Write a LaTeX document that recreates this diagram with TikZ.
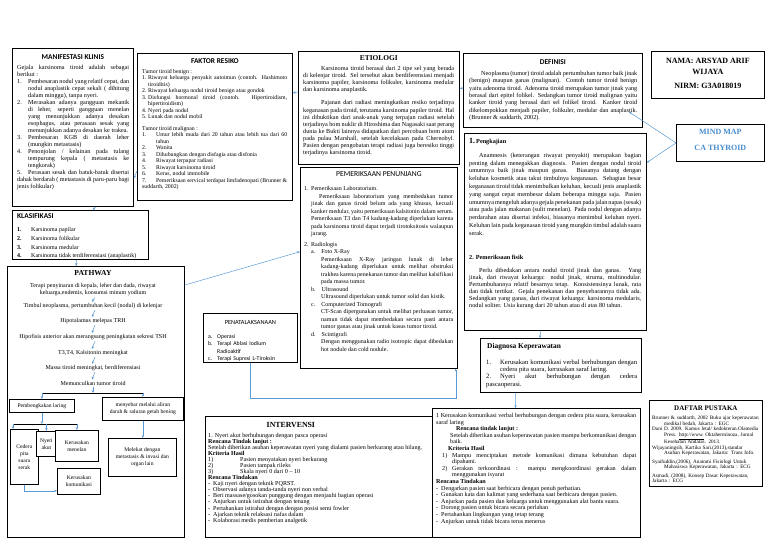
\documentclass[tikz,border=0pt]{standalone}
\usepackage{fontspec}
\setmainfont{Liberation Serif}
\newfontfamily\calfont{Carlito}
\usetikzlibrary{arrows.meta,calc}

\definecolor{garisbiru}{RGB}{91,155,213}
\definecolor{tulisanbiru}{RGB}{70,140,205}
% butir berhanging indent: [lebar]{label}{isi}
\newcommand\butir[3][7pt]{\par\hangindent=#1\hangafter=1\noindent\makebox[#1][l]{#2}#3}
% paragraf dengan margin kiri
\newcommand\blok[2]{\par{\leftskip=#1\relax\noindent#2\par}}

\begin{document}
\hyphenpenalty=10000
\exhyphenpenalty=10000
\emergencystretch=6pt
\begin{tikzpicture}[x=1pt, y=-1pt,
  kotak/.style={draw, fill=white, line width=0.75pt, inner sep=0pt, anchor=north west},
  isi/.style={anchor=north west, inner sep=0pt, align=justify, font=\fontsize{6.2}{7.1}\selectfont},
  jsans/.style={inner sep=0pt, font=\calfont\bfseries\fontsize{7.4}{8}\selectfont},
  jsansr/.style={inner sep=0pt, font=\calfont\fontsize{7.6}{8}\selectfont},
  jserif/.style={inner sep=0pt, font=\bfseries\fontsize{7.4}{8}\selectfont},
  alur/.style={inner sep=1.2pt, align=center, font=\fontsize{6}{7}\selectfont},
  kecil/.style={kotak, align=center, font=\fontsize{5.6}{7}\selectfont},
  panah/.style={-{Stealth[length=2.8pt,width=2.4pt]}, draw=garisbiru, line width=0.5pt},
  cabang/.style={line width=0.9pt}]
\useasboundingbox (0,0) rectangle (768,543);

% ---------- baris atas ----------
\node[kotak, minimum width=121pt, minimum height=158pt] (manif) at (12,48) {};
\node[jsans] at ([yshift=-9pt]manif.north) {MANIFESTASI KLINIS};
\node[isi, text width=112pt, font=\fontsize{6.2}{7}\selectfont] at ([xshift=5pt,yshift=-17pt]manif.north west)
{Gejala karsinoma tiroid adalah sebagai berikut :
\butir[11pt]{1.}{Pembesaran nodul yang relatif cepat, dan nodul anaplastik cepat sekali ( dihitung dalam minggu), tanpa nyeri.}
\butir[11pt]{2.}{Merasakan adanya gangguan mekanik di leher, seperti gangguan menelan yang menunjukkan adanya desakan esophagus, atau perasaan sesak yang menunjukkan adanya desakan ke trakea.}
\butir[11pt]{3.}{Pembesaran KGB di daerah leher (mungkin metastasis)}
\butir[11pt]{4.}{Penonjolan / kelainan pada tulang tempurung kepala ( metastasis ke tengkorak)}
\butir[11pt]{5.}{Perasaan sesak dan batuk-batuk disertai dahak berdarah ( metastasis di paru-paru bagi jenis folikular)}};

\node[kotak, minimum width=155pt, minimum height=147pt] (faktor) at (137,53) {};
\node[jsans] at ([yshift=-8pt]faktor.north) {FAKTOR RESIKO};
\node[isi, text width=145pt, font=\fontsize{5.8}{6.5}\selectfont] at ([xshift=5pt,yshift=-16pt]faktor.north west)
{Tumor tiroid benign :
\butir[6pt]{1.}{Riwayat keluarga penyakit autoimun (contoh. Hashimoto tiroiditis)}
\butir[6pt]{2.}{Riwayat keluarga nodul tiroid benign atau gondok}
\butir[6pt]{3.}{Disfungsi hormonal tiroid (contoh. Hipertiroidism, hipertiroidism)}
\butir[6pt]{4.}{Nyeri pada nodul}
\butir[6pt]{5.}{Lunak dan nodul mobil}
\par\vspace{5pt}
Tumor tiroid malignan :
\butir[14pt]{1.}{Umur lebih muda dari 20 tahun atau lebih tua dari 60 tahun}
\butir[14pt]{2.}{Wanita}
\butir[14pt]{3.}{Dihubungkan dengan disfagia atau disfonia}
\butir[14pt]{4.}{Riwayat terpapar radiasi}
\butir[14pt]{5.}{Riwayat karsinoma tiroid}
\butir[14pt]{6.}{Keras, nodul immobile}
\butir[14pt]{7.}{Pemeriksaan servical terdapat limfadenopati (Brunner \& suddarth, 2002)}};

\node[kotak, minimum width=161pt, minimum height=113pt] (etiologi) at (298,51) {};
\node[jserif] at ([yshift=-7pt]etiologi.north) {ETIOLOGI};
\node[isi, text width=151pt] at ([xshift=5pt,yshift=-15pt]etiologi.north west)
{\hspace*{18pt}Karsinoma tiroid berasal dari 2 tipe sel yang berada di kelenjar tiroid. Sel tersebut akan berdiferensiasi menjadi karsinoma papiler, karsinoma folikuler, karsinoma medular dan karsinoma anaplastik.\par\vspace{6pt}
\hspace*{18pt}Pajanan dari radiasi meningkatkan resiko terjadinya keganasan pada tiroid, terutama karsinoma papiler tiroid. Hal ini dibuktikan dari anak-anak yang terpajan radiasi setelah terjadinya bom nuklir di Hiroshima dan Nagasaki saat perang dunia ke Bukti lainnya didapatkan dari percobaan bom atom pada pulau Marshall, setelah kecelakaan pada Chernobyl. Pasien dengan pengobatan terapi radiasi juga beresiko tinggi terjadinya karsinoma tiroid.};

\node[kotak, minimum width=179pt, minimum height=74pt] (definisi) at (463,53) {};
\node[jsans] at ([yshift=-9pt]definisi.north) {DEFINISI};
\node[isi, text width=168pt, font=\fontsize{6.2}{7.3}\selectfont] at ([xshift=6pt,yshift=-18pt]definisi.north west)
{\hspace*{12pt}Neoplasma (tumor) tiroid adalah pertumbuhan tumor baik jinak (benign) maupun ganas (malignan). Contoh tumor tiroid benign yaitu adenoma tiroid. Adenoma tiroid merupakan tumor jinak yang berasal dari epitel folikel. Sedangkan tumor tiroid malignan yaitu kanker tiroid yang berasal dari sel folikel tiroid. Kanker tiroid dikelompokkan menjadi papiler, folikuler, medular dan anaplastik. (Brunner \& suddarth, 2002).};

\node[kotak, minimum width=113pt, minimum height=47pt] (nama) at (651,51) {};
\node[jserif, align=center, font=\bfseries\fontsize{8}{11}\selectfont] at ([yshift=-15pt]nama.north) {NAMA: ARSYAD ARIF\\WIJAYA};
\node[jserif, font=\bfseries\fontsize{8}{8}\selectfont] at ([yshift=-35pt]nama.north) {NIRM: G3A018019};

\node[kotak, minimum width=88pt, minimum height=37pt] (mind) at (676,124) {};
\node[jserif, text=tulisanbiru, font=\bfseries\fontsize{8}{8}\selectfont] at ([yshift=-8pt]mind.north) {MIND MAP};
\node[jserif, text=tulisanbiru, font=\bfseries\fontsize{8}{8}\selectfont] at ([yshift=-24pt]mind.north) {CA THYROID};

% ---------- pengkajian ----------
\node[kotak, minimum width=182pt, minimum height=197pt] (kaji) at (464,133) {};
\node[isi, text width=172pt, font=\fontsize{6.2}{7.8}\selectfont] at ([xshift=5pt,yshift=-5pt]kaji.north west)
{{\fontsize{8}{8}\selectfont\bfseries 1.}\,\textbf{Pengkajian}\par\vspace{6pt}
\hspace*{10pt}Anamnesis (keterangan riwayat penyakit) merupakan bagian penting dalam menegakkan diagnosis. Pasien dengan nodul tiroid umumnya baik jinak maupun ganas. Biasanya datang dengan keluhan kosmetik atau takut timbulnya keganasan. Sebagian besar keganasan tiroid tidak menimbulkan keluhan, kecuali jenis anaplastik yang sangat cepat membesar dalam beberapa minggu saja. Pasien umumnya mengeluh adanya gejala penekanan pada jalan napas (sesak) atau pada jalan makanan (sulit menelan). Pada nodul dengan adanya perdarahan atau disertai infeksi, biasanya menimbul keluhan nyeri. Keluhan lain pada keganasan tiroid yang mungkin timbul adalah suara serak.\par\vspace{16pt}
\textbf{2. Pemeriksaan fisik}\par\vspace{6pt}
{\fontsize{6.2}{7}\selectfont\hspace*{10pt}Perlu dibedakan antara nodul tiroid jinak dan ganas. Yang jinak, dari riwayat keluarga: nodul jinak, struma, multinodular. Pertumbuhannya relatif besarnya tetap. Konsistensinya lunak, rata dan tidak tertikat. Gejala penekanan dan penyebarannya tidak ada. Sedangkan yang ganas, dari riwayat keluarga: karsinoma medularis, nodul soliter. Usia kurang dari 20 tahun atau di atas 80 tahun.\par}};

% ---------- pemeriksaan penunjang ----------
\node[kotak, minimum width=157pt, minimum height=201pt] (penunjang) at (300,167) {};
\node[jsansr] at ([yshift=-7pt]penunjang.north) {PEMERIKSAAN PENUNJANG};
\node[isi, text width=149pt, font=\fontsize{6}{7.5}\selectfont] at ([xshift=4pt,yshift=-16pt]penunjang.north west)
{\butir{1.}{Pemeriksaan Laboratorium.}
\blok{7pt}{\hspace*{8pt}Pemeriksaan laboratorium yang membedakan tumor jinak dan ganas tiroid belum ada yang khusus, kecuali kanker medular, yaitu pemeriksaan kalsitonin dalam serum.}
\blok{7pt}{Pemeriksaan T3 dan T4 kadang-kadang diperlukan karena pada karsinoma tiroid dapat terjadi tirotoksitosis walaupun jarang.}
\par\vspace{3pt}
\butir{2.}{Radiologis}
\blok{7pt}{a.\hspace{6pt}Foto X-Ray}
\blok{17pt}{Pemeriksaan X-Ray jaringan lunak di leher kadang-kadang diperlukan untuk melihat obstruksi trakhea karena penekanan tumor dan melihat kalsifikasi pada massa tumor.}
\blok{7pt}{b.\hspace{6pt}Ultrasound}
\blok{17pt}{Ultrasound diperlukan untuk tumor solid dan kistik.}
\blok{7pt}{c.\hspace{6pt}Computerized Tomografi}
\blok{17pt}{CT-Scan dipergunakan untuk melihat perluasan tumor, namun tidak dapat membedakan secara pasti antara tumor ganas atau jinak untuk kasus tumor tiroid.}
\blok{7pt}{d.\hspace{6pt}Scintigrafi}
\blok{17pt}{Dengan menggunakan radio isotropic dapat dibedakan hot nodule dan cold nodule.}};

% ---------- klasifikasi ----------
\node[kotak, minimum width=136pt, minimum height=49pt] (klas) at (12,210) {};
\node[jsans, anchor=north west] at ([xshift=5pt,yshift=-3pt]klas.north west) {KLASIFIKASI};
\node[isi, text width=125pt, font=\fontsize{6}{8.6}\selectfont] at ([xshift=5pt,yshift=-13pt]klas.north west)
{\butir[14pt]{\textbf{1.}}{Karsinoma papilar}
\butir[14pt]{\textbf{2.}}{Karsinoma folikular}
\butir[14pt]{\textbf{3.}}{Karsinoma medular}
\butir[14pt]{\textbf{4.}}{Karsinoma tidak terdiferensiasi (anaplastik)}};

% ---------- pathway ----------
\node[kotak, minimum width=177pt, minimum height=271pt] (pathway) at (7,266) {};
\node[jserif, font=\bfseries\fontsize{7.6}{8}\selectfont] at (93,273) {PATHWAY};
\node[alur] (p1) at (93,290) {Terapi penyinaran di kepala, leher dan dada, riwayat\\keluarga,endemis, konsumsi minum yodium};
\node[alur] (p2) at (93,306) {Timbul neoplasma, pertumbuhan kecil (nodul) di kelenjar};
\node[alur] (p3) at (93,321) {Hipotalamus melepas TRH};
\node[alur] (p4) at (93,337) {Hipofisis anterior akan merangsang peningkatan sekresi TSH};
\node[alur] (p5) at (93,353) {T3,T4, Kalsitonin meningkat};
\node[alur] (p6) at (93,368) {Massa tiroid meningkat, berdiferensiasi};
\node[alur] (p7) at (93,383) {Memunculkan tumor tiroid};
\foreach \a/\b in {p1/p2,p2/p3,p3/p4,p4/p5,p5/p6,p6/p7}
  \draw[panah] ([xshift=2pt]\a.south) -- ([xshift=-1pt]\b.north);

\node[kecil, minimum width=65pt, minimum height=13pt] (bengkak) at (9,399) {Pembengkakan laring};
\node[kecil, minimum width=81pt, minimum height=23pt] (sebar) at (102,397) {menyebar melalui aliran\\darah \& saluran getah bening};
\coordinate (bar1) at (0,393);
\draw[cabang] (bar1 -| bengkak.north) -- (bar1 -| sebar.north);
\draw[panah] (p7) -- (p7 |- bar1);
\draw[panah] (bar1 -| bengkak.north) -- (bengkak.north);
\draw[panah] (bar1 -| sebar.north) -- (sebar.north);

\node[kecil, minimum width=28pt, minimum height=55pt] (cedera) at (10,429) {Cedera\\pita\\suara\\serak};
\node[kecil, minimum width=20pt, minimum height=25pt] (nyeri) at (36,431) {Nyeri\\akut};
\node[kecil, minimum width=43pt, minimum height=31pt] (menelan) at (55,430) {Kerusakan\\menelan};
\node[kecil, minimum width=43pt, minimum height=26pt] (komunikasi) at (57,468) {Kerusakan\\komunikasi};
\node[kecil, minimum width=68pt, minimum height=38pt] (melekat) at (108,438) {Melekat dengan\\metastasis \& invasi dan\\organ lain};
\coordinate (bar2) at (0,424);
\coordinate (cedkiri) at ([xshift=3pt]cedera.north west);
\draw[panah] (bengkak.south) -- (bengkak.south |- bar2);
\draw[cabang] (bar2 -| cedkiri) -- (bar2 -| menelan.north);
\draw[panah] (bar2 -| cedkiri) -- (cedkiri);
\draw[panah] (bar2 -| nyeri.north) -- (nyeri.north);
\draw[panah] (bar2 -| menelan.north) -- (menelan.north);
\coordinate (bawahced) at ($(cedera.south)+(0,6)$);
\draw[panah] (cedera.south) -- (bawahced) -- (bawahced -| komunikasi.west);
\draw[panah] (sebar.south) -- (sebar.south |- melekat.north);

% ---------- penatalaksanaan ----------
\node[kotak, minimum width=94pt, minimum height=49pt] (tata) at (203,313) {};
\node[jsansr, font=\calfont\fontsize{6.3}{7}\selectfont] at ([yshift=-9pt]tata.north) {PENATALAKSANAAN};
\node[anchor=north west, inner sep=0pt, text width=86pt, align=left, font=\calfont\fontsize{5.8}{7.3}\selectfont] at ([xshift=5pt,yshift=-18pt]tata.north west)
{\butir[9pt]{a.}{Operasi}
\butir[9pt]{b.}{Terapi Ablasi Iodium\newline Radioaktif}
\butir[9pt]{c.}{Terapi Supresi L-Tiroksin}};

% ---------- diagnosa ----------
\node[kotak, minimum width=161pt, minimum height=54pt] (diagnosa) at (480,338) {};
\node[jserif, anchor=west] at ([xshift=7pt,yshift=-9pt]diagnosa.north west) {Diagnosa Keperawatan};
\node[isi, text width=151pt, font=\fontsize{6.6}{7.2}\selectfont] at ([xshift=6pt,yshift=-19pt]diagnosa.north west)
{\butir[14pt]{1.}{Kerusakan komunikasi verbal berhubungan dengan cedera pita suara, kerusakan saraf laring.}
\butir[14pt]{2.}{Nyeri akut berhubungan dengan cedera pascaoperasi.}};

% ---------- intervensi ----------
\node[kotak, minimum width=227pt, minimum height=121pt] (intera) at (205,416) {};
\node[kotak, minimum width=208pt, minimum height=129pt] (interb) at (432,408) {};
\node[jserif, font=\bfseries\fontsize{7.8}{8}\selectfont] at ([xshift=-28pt,yshift=-9pt]intera.north) {INTERVENSI};
\node[isi, text width=219pt, font=\fontsize{6.1}{6.05}\selectfont] at ([xshift=3pt,yshift=-17pt]intera.north west)
{1. Nyeri akut berhubungan dengan pasca operasi
\par\textbf{Rencana Tindak lanjut :}
\par\hangindent=5pt\hangafter=1\noindent Setelah diberikan asuhan keperawatan nyeri yang dialami pasien berkurang atau hilang.
\par\textbf{Kriteria Hasil}
\butir[32pt]{1)}{Pasien menyatakan nyeri berkurang}
\butir[32pt]{2)}{Pasien tampak rileks}
\butir[32pt]{3)}{Skala nyeri 0 dari 0 -- 10}
\par\textbf{Rencana Tindakan}
\butir[5pt]{-}{Kaji nyeri dengan teknik PQRST.}
\butir[5pt]{-}{Observasi adanya tanda-tanda nyeri non verbal}
\butir[5pt]{-}{Beri massase/gosokan punggung dengan menjauhi bagian operasi}
\butir[5pt]{-}{Anjurkan untuk istirahat dengan tenang}
\butir[5pt]{-}{Pertahankan istirahat dengan dengan posisi semi fowler}
\butir[5pt]{-}{Ajarkan teknik relaksasi nafas dalam}
\butir[5pt]{-}{Kolaborasi medis pemberian analgetik}};
\node[isi, text width=200pt, font=\fontsize{6.1}{6.6}\selectfont] at ([xshift=4pt,yshift=-5pt]interb.north west)
{1 Kerusakan komunikasi verbal berhubungan dengan cedera pita suara, kerusakan saraf laring
\par\hspace*{20pt}\textbf{Rencana tindak lanjut :}
\blok{14pt}{Setelah diberikan asuhan keperawatan pasien mampu berkomunikasi dengan baik.}
\par\hspace*{6pt}\textbf{Kriteria Hasil}
{\leftskip=6pt
\butir[10pt]{1)}{Mampu menciptakan metode komunikasi dimana kebutuhan dapat dipahami.}
\butir[10pt]{2)}{Gerakan terkoordinasi : mampu mengkoordinasi gerakan dalam menggunakan isyarat}\par}
\textbf{Rencana Tindakan}
\butir[5pt]{-}{Dengarkan pasien saat berbicara dengan penuh perhatian.}
\butir[5pt]{-}{Gunakan kata dan kalimat yang sederhana saat berbicara dengan pasien.}
\butir[5pt]{-}{Anjurkan pada pasien dan keluarga untuk menggunakan alat bantu suara.}
\butir[5pt]{-}{Dorong pasien untuk bicara secara perlahan}
\butir[5pt]{-}{Pertahankan lingkungan yang tetap terang}
\butir[5pt]{-}{Anjurkan untuk tidak bicara terus menerus}};

% ---------- daftar pustaka ----------
\node[kotak, minimum width=113pt, minimum height=86pt] (pustaka) at (649,400) {};
\node[jserif, font=\bfseries\fontsize{7}{8}\selectfont] at ([yshift=-8pt]pustaka.north) {DAFTAR PUSTAKA};
\node[isi, text width=107pt, align=left, font=\fontsize{5.2}{5.5}\selectfont] at ([xshift=3pt,yshift=-14pt]pustaka.north west)
{\butir[12pt]{}{\hspace*{-12pt}Brunner \& suddarth, 2002 Buku ajar keperawatan medikal bedah, Jakarta : EGC}
\butir[12pt]{}{\hspace*{-12pt}Dani D. 2009. Kamus letal/ kedokteran.Olamedia Press. \underline{http://www.} Oktaherminoza, Jurnal Kesehatan Andalas. 2013.}
\butir[12pt]{}{\hspace*{-12pt}Wijayaningsih, Kartika Sari.(2013),standar Asuhan Keperawatan, Jakarta: Trans Info.}
\par\vspace{3pt}
\butir[12pt]{}{\hspace*{-12pt}Syaifuddin,(2006), Anatomi Fisiologi Untuk Mahasiswa Keperawatan, Jakarta : ECG}
\par\vspace{3pt}
\butir[12pt]{}{\hspace*{-12pt}Asmadi, (2008), Konsep Dasar Keperawatan, Jakarta : ECG}};

% ---------- penghubung ----------
\draw[panah] ($(faktor.north west)!0.8!(faktor.south west)$) -- ($(manif.north east)!0.82!(manif.south east)$);
\draw[panah] ($(etiologi.north west)!0.36!(etiologi.south west)$) -- ($(faktor.north east)!0.27!(faktor.south east)$);
\draw[panah] ($(definisi.north west)!0.47!(definisi.south west)$) -- ($(etiologi.north east)!0.33!(etiologi.south east)$);
\draw[panah] (mind.west) -- ($(definisi.south east)+(-14,-16)$);
\draw[panah] (mind.west) -- ($(kaji.north east)!0.15!(kaji.south east)$);
\draw[panah] ($(manif.south west)!0.69!(manif.south east)$) -- ($(klas.north west)!0.59!(klas.north east)$);
\draw[panah] ($(klas.south west)!0.47!(klas.south east)$) -- ($(pathway.north west)!0.39!(pathway.north east)$);
\draw[panah] ($(pathway.north east)!0.07!(pathway.south east)$) -- ($(penunjang.north west)!0.42!(penunjang.south west)$);
\coordinate (belok) at ($(penunjang.south east)+(-2,29)$);
\draw[panah] (tata.south) |- (belok) -- (belok |- penunjang.south);
\draw[panah] ($(kaji.south west)!0.42!(kaji.south east)$) -- ($(diagnosa.north west)!0.37!(diagnosa.north east)$);
\draw[panah] ($(diagnosa.south west)!0.22!(diagnosa.south east)$) -- ($(interb.north west)!0.4!(interb.north east)$);
\end{tikzpicture}
\end{document}
